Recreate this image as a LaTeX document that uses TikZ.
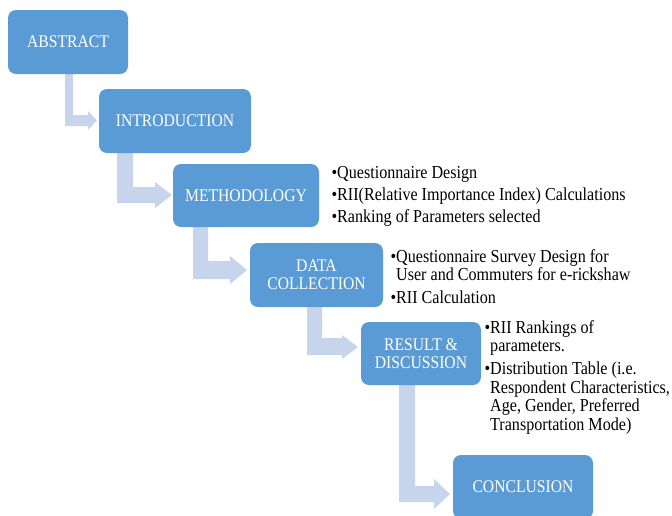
\documentclass[tikz,border=0pt]{standalone}
\usepackage{fontspec}
\setmainfont{Liberation Serif}[FakeStretch=0.88]
\definecolor{boxblue}{HTML}{5B9BD5}
\definecolor{arrblue}{HTML}{C6D5EB}
\begin{document}
\begin{tikzpicture}[x=1pt,y=-1pt,
  box/.style={fill=boxblue, rounded corners=8pt, text=white, align=center,
    font=\fontsize{17.8}{18}\selectfont, inner sep=0pt},
  arr/.style={fill=arrblue},
  item/.style={anchor=base west, inner sep=0pt, text=black,
    font=\fontsize{18.3}{18.5}\selectfont}]
\useasboundingbox (0,0) rectangle (672,515);
\clip (0,0) rectangle (672,515);

% bent arrows
\fill[arr] (65,74) -- (73,74) -- (73,115) -- (88,115) -- (88,111) -- (97,120.5) -- (88,130) -- (88,126) -- (65,126) -- cycle;
\fill[arr] (117,153) -- (133,153) -- (133,187) -- (155,187) -- (155,182) -- (172,195) -- (155,208) -- (155,203) -- (117,203) -- cycle;
\fill[arr] (193,227) -- (208,227) -- (208,261) -- (230,261) -- (230,256) -- (247,270) -- (230,284) -- (230,279) -- (193,279) -- cycle;
\fill[arr] (307,307) -- (322,307) -- (322,338) -- (342,338) -- (342,335) -- (358,347) -- (342,359) -- (342,355) -- (307,355) -- cycle;
\fill[arr] (399,385) -- (415,385) -- (415,486) -- (434,486) -- (434,479) -- (450,494) -- (434,509) -- (434,502) -- (399,502) -- cycle;

% boxes
\node[box, minimum width=120pt, minimum height=64pt] (A) at (68,42) {ABSTRACT};
\node[box, minimum width=152pt, minimum height=64pt] (I) at (175,121) {INTRODUCTION};
\node[box, minimum width=146pt, minimum height=63pt] (M) at (246,195.5) {METHODOLOGY};
\node[box, minimum width=133pt, minimum height=64pt] (D) at (316.5,275) {DATA\\COLLECTION};
\node[box, minimum width=120pt, minimum height=63pt] (R) at (421,353.5) {RESULT \&\\DISCUSSION};
\node[box, minimum width=140pt, minimum height=64pt] (C) at (523,487) {CONCLUSION};

% methodology list
\node[item] (m1) at (337,178) {\llap{\textbullet}Questionnaire Design};
\node[item] (m2) at (337,200) {\llap{\textbullet}RII(Relative Importance Index) Calculations};
\node[item] (m3) at (337,222) {\llap{\textbullet}Ranking of Parameters selected};

% data collection list
\node[item] (d1) at (396,262) {\llap{\textbullet}Questionnaire Survey Design for};
\node[item] (d1b) at (396,280.5) {User and Commuters for e-rickshaw};
\node[item] (d2) at (396,303) {\llap{\textbullet}RII Calculation};

% result list
\node[item] (r1) at (490,333) {\llap{\textbullet}RII Rankings of};
\node[item] (r1b) at (490,351) {parameters.};
\node[item] (r2) at (490,374.5) {\llap{\textbullet}Distribution Table (i.e.};
\node[item] (r2b) at (490,393) {Respondent Characteristics,};
\node[item] (r2c) at (490,411.5) {Age, Gender, Preferred};
\node[item] (r2d) at (490,430) {Transportation Mode)};
\end{tikzpicture}
\end{document}
